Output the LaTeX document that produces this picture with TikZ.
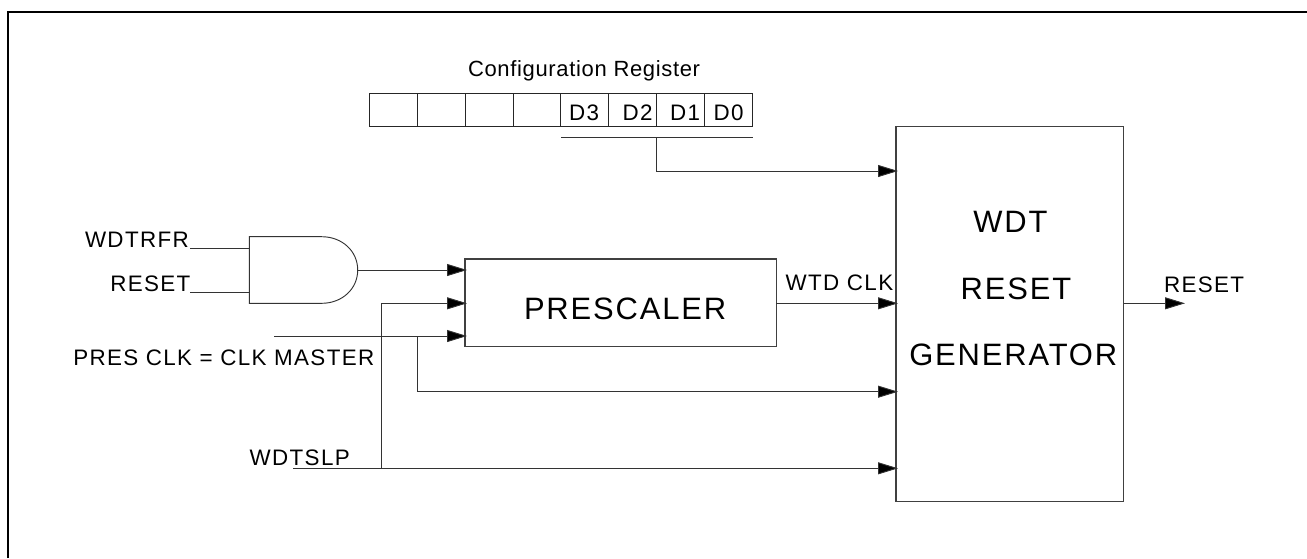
\documentclass[tikz,border=0pt]{standalone}
\usepackage{fontspec}
\setmainfont{Liberation Sans}
\newfontfamily\lblfont[LetterSpace=6]{Liberation Sans}
\newfontfamily\cfgfont[LetterSpace=3]{Liberation Sans}
\usetikzlibrary{arrows.meta,calc}
\tikzset{
  wire/.style={draw=black!80,line width=0.7pt},
  arrowwire/.style={wire,-{Triangle[length=15pt,width=9pt,fill=black]}},
  boxnode/.style={draw=black!75,line width=0.9pt,inner sep=0pt,outer sep=0pt,anchor=north west},
  cellnode/.style={draw=black!85,line width=0.7pt,inner sep=0pt,outer sep=0pt,anchor=north west,minimum height=25pt},
  smalltxt/.style={anchor=base west,inner sep=0pt,outer sep=0pt,font=\lblfont\fontsize{16.8pt}{20pt}\selectfont},
  cfgtxt/.style={anchor=base west,inner sep=0pt,outer sep=0pt,font=\cfgfont\fontsize{16.5pt}{20pt}\selectfont},
  bigtxt/.style={anchor=base west,inner sep=0pt,outer sep=0pt,font=\lblfont\fontsize{23.2pt}{27pt}\selectfont},
  frameline/.style={draw=black,line width=1.6pt}
}
\begin{document}
\begin{tikzpicture}[x=0.75pt,y=-0.75pt]
\useasboundingbox (0,0) rectangle (1307,558);
% outer frame
\coordinate (fA) at (8,558);
\coordinate (fB) at (8,12);
\coordinate (fC) at (1307,12);
\draw[frameline] (fA) -- (fB) -- (fC);
% register
\node[cellnode,minimum width=36.1pt] (c7) at (369,93.3) {};
\node[cellnode,minimum width=36pt] (c6) at (417.2,93.3) {};
\node[cellnode,minimum width=35.9pt] (c5) at (465.2,93.3) {};
\node[cellnode,minimum width=35.6pt] (c4) at (513.1,93.3) {};
\node[cellnode,minimum width=35.7pt] (c3) at (560.6,93.3) {};
\node[cellnode,minimum width=36.3pt] (c2) at (608.2,93.3) {};
\node[cellnode,minimum width=36.1pt] (c1) at (656.6,93.3) {};
\node[cellnode,minimum width=36pt] (c0) at (704.7,93.3) {};
\node[cfgtxt] (tcfg) at (468,76.7) {Configuration Register};
\node[smalltxt] (td3) at (569,120) {D3};
\node[smalltxt] (td2) at (622.5,120) {D2};
\node[smalltxt] (td1) at (670,120) {D1};
\node[smalltxt] (td0) at (713.6,120) {D0};
% blocks
\node[boxnode,minimum width=233.5pt,minimum height=65.8pt] (pre) at (465,259) {};
\node[boxnode,minimum width=170.8pt,minimum height=281.3pt] (wdt) at (896,126.7) {};
\node[bigtxt] (tpre) at (524,319.5) {PRESCALER};
\node[bigtxt] (twdt1) at (973.3,232.5) {WDT};
\node[bigtxt] (twdt2) at (960.7,299) {RESET};
\node[bigtxt] (twdt3) at (909.3,365) {GENERATOR};
% labels
\node[smalltxt] (lrfr) at (85,247.7) {WDTRFR};
\node[smalltxt] (lrst) at (110.3,291.7) {RESET};
\node[smalltxt] (lclk) at (73.3,365.7) {PRES CLK = CLK MASTER};
\node[smalltxt] (lslp) at (249.7,465) {WDTSLP};
\node[smalltxt] (lwtd) at (785.7,290) {WTD CLK};
\node[smalltxt] (lout) at (1164,292) {RESET};
% AND gate
\coordinate (gtl) at (249.3,236.7);
\coordinate (gbl) at (249.3,303.3);
\coordinate (gtr) at (321.7,236.7);
\coordinate (gbr) at (321.7,303.3);
\coordinate (gout) at (357.7,270);
\draw[wire] (gtr) -- (gtl) -- (gbl) -- (gbr)
  .. controls (342,303.3) and (357.7,289) .. (gout)
  .. controls (357.7,251) and (342,236.7) .. (gtr);
\coordinate (gin1) at (249.3,248);
\coordinate (gin2) at (249.3,292);
\coordinate (s1) at (190,248);
\coordinate (s2) at (190,292);
\draw[wire] (s1) -- (gin1);
\draw[wire] (s2) -- (gin2);
% port coordinates
\coordinate (preA) at (467,270);
\coordinate (preB) at (467,303.3);
\coordinate (preC) at (467,336);
\coordinate (wA) at (898,171);
\coordinate (wB) at (898,303.3);
\coordinate (wC) at (898,391.7);
\coordinate (wD) at (898,468.3);
\coordinate (outE) at (1185,303.3);
\coordinate (preOut) at (776.3,303.3);
\coordinate (wOut) at (1123.7,303.3);
% connectors
\draw[arrowwire] (gout) -- (preA);
\coordinate (clkS) at (274,336);
\draw[arrowwire] (clkS) -- (preC);
\coordinate (slpS) at (293.3,468.3);
\draw[arrowwire] (slpS) -- (wD);
\coordinate (slpT) at (381,468.3);
\draw[arrowwire] (slpT) -- (381,303.3) -- (preB);
\coordinate (clkT) at (417.3,336);
\draw[arrowwire] (clkT) -- (417.3,391.7) -- (wC);
\draw[arrowwire] (preOut) -- (wB);
\draw[arrowwire] (wOut) -- (outE);
\coordinate (busL) at (561,137.7);
\coordinate (busR) at (753,137.7);
\coordinate (busM) at (656.5,137.7);
\draw[wire] (busL) -- (busR);
\draw[arrowwire] (busM) -- (656.5,171) -- (wA);
\end{tikzpicture}
\end{document}
